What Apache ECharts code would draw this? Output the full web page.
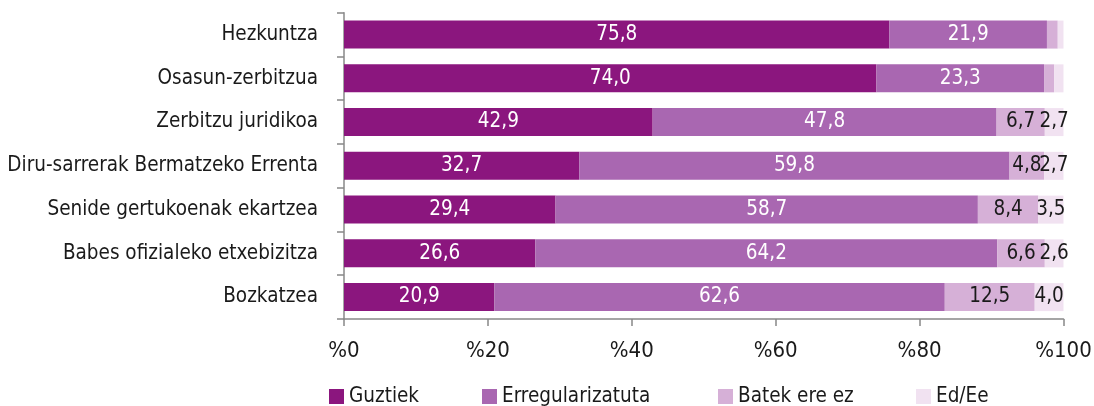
<!DOCTYPE html>
<html>
<head>
<meta charset="utf-8">
<script src="https://cdn.jsdelivr.net/npm/echarts@6/dist/echarts.min.js"></script>
<style>html,body{margin:0;padding:0;background:#fff}#c{width:1094px;height:406px}</style>
</head>
<body>
<div id="c"></div>
<script>
const categories = ["Hezkuntza","Osasun-zerbitzua","Zerbitzu juridikoa","Diru-sarrerak Bermatzeko Errenta","Senide gertukoenak ekartzea","Babes ofizialeko etxebizitza","Bozkatzea"];
const seriesNames = ["Guztiek","Erregularizatuta","Batek ere ez","Ed/Ee"];
const guztiek =          [75.8, 74.0, 42.9, 32.7, 29.4, 26.6, 20.9];
const erregularizatuta = [21.9, 23.3, 47.8, 59.8, 58.7, 64.2, 62.6];
const batekEreEz =       [1.5, 1.4, 6.7, 4.8, 8.4, 6.6, 12.5];
const edEe =             [0.8, 1.3, 2.7, 2.7, 3.5, 2.6, 4.0];
const xTicks = [0, 20, 40, 60, 80, 100];

const FONT = '"DejaVu Sans Condensed","Liberation Sans Narrow",sans-serif';
const colors = ["#8B167E","#A967B1","#D6B0D7","#F1E2F1"];
const labelColors = ["#ffffff","#ffffff","#1a1a1a","#1a1a1a"];
const values = [guztiek, erregularizatuta, batekEreEz, edEe];
const FS = 20.5;

const chart = echarts.init(document.getElementById('c'));
const legendLefts = [329, 482, 718, 916];
chart.setOption({
  animation: false,
  textStyle: { fontFamily: FONT },
  grid: { left: 344, right: 30.5, top: 12.7, bottom: 87, containLabel: false, outerBoundsMode: 'none' },
  legend: seriesNames.map((n, i) => ({
    data: [n], left: legendLefts[i], top: 386, itemWidth: 15, itemHeight: 15, itemGap: 5,
    icon: 'rect', padding: 0, textStyle: { fontFamily: FONT, fontSize: FS, color: '#1a1a1a' }
  })),
  xAxis: {
    type: 'value', min: 0, max: 100, interval: 20,
    axisLine: { show: true, lineStyle: { color: '#888', width: 1.5 } },
    axisTick: { show: true, length: 7, lineStyle: { color: '#888', width: 1.5 } },
    splitLine: { show: false },
    axisLabel: { fontFamily: FONT, fontSize: 22, color: '#1a1a1a', margin: 21,
      formatter: v => xTicks.includes(v) ? '%' + v : '' }
  },
  yAxis: {
    type: 'category', inverse: true, data: categories,
    axisLine: { show: true, lineStyle: { color: '#888', width: 1.5 } },
    axisTick: { show: true, length: 7, lineStyle: { color: '#888', width: 1.5 } },
    axisLabel: { fontFamily: FONT, fontSize: FS, color: '#1a1a1a', margin: 26 }
  },
  series: seriesNames.map((n, i) => ({
    name: n, type: 'bar', stack: 'total', data: values[i], barCategoryGap: '36%',
    itemStyle: { color: colors[i] },
    label: { show: true, position: 'inside', color: labelColors[i], fontFamily: FONT, fontSize: FS,
      formatter: p => p.value >= 2 ? p.value.toFixed(1).replace('.', ',') : '' }
  }))
});
</script>
</body>
</html>
